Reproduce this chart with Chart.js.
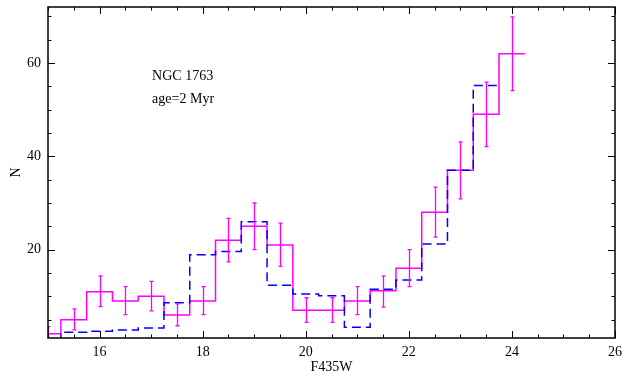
<!DOCTYPE html>
<html>
<head>
<meta charset="utf-8">
<script src="https://cdn.jsdelivr.net/npm/chart.js@4/dist/chart.umd.min.js"></script>
<style>
  html, body { margin: 0; padding: 0; background: #fff; }
  #wrap { width: 640px; height: 376px; }
</style>
</head>
<body>
<div id="wrap"><canvas id="c" width="640" height="376"></canvas></div>
<script>
// ---- data ----
const binWidth = 0.5;
const obsCenters = [15.0, 15.5, 16.0, 16.5, 17.0, 17.5, 18.0, 18.5, 19.0, 19.5, 20.0, 20.5, 21.0, 21.5, 22.0, 22.5, 23.0, 23.5, 24.0];
const obsN       = [2,    5,    11,   9,    10,   6,    9,    22,   25,   21,   7,    7,    9,    11.2, 16,   28,   37,   49,   62];
const obsErrLo   = [0.6,  2.8,  7.8,  6.1,  6.9,  3.7,  6.1,  17.4, 20,   16.4, 4.4,  4.4,  6.1,  7.7,  12.1, 22.7, 30.9, 42.1, 54.1];
const obsErrHi   = [3.5,  7.3,  14.4, 12.1, 13.2, 8.4,  12.1, 26.7, 30,   25.7, 9.7,  9.7,  12.1, 14.4, 20,   33.4, 43.1, 55.9, 69.9];
const modelCenters = [15.5, 16.0, 16.5, 17.0, 17.5, 18.0, 18.5, 19.0, 19.5, 20.0, 20.5, 21.0, 21.5, 22.0, 22.5, 23.0, 23.5];
const modelN       = [2.3,  2.5,  2.8,  3.2,  8.6,  18.9, 19.6, 26.0, 12.4, 10.5, 10.1, 3.35, 11.5, 13.5, 21.2, 37.0, 55.2];
const xTicks = [16, 18, 20, 22, 24, 26];
const yTicks = [20, 40, 60];
const xMinor = 0.5, yMinor = 5;
const annotation = ["NGC 1763", "age=2 Myr"];
const xTitle = "F435W", yTitle = "N";

// build step-outline points (bin left edges, plus final right edge)
function stepPoints(centers, vals, fromZero) {
  const pts = [];
  if (fromZero) pts.push({x: centers[0] - binWidth / 2, y: 0});
  centers.forEach((c, i) => pts.push({x: c - binWidth / 2, y: vals[i]}));
  pts.push({x: centers[centers.length - 1] + binWidth / 2, y: vals[vals.length - 1]});
  return pts;
}

const FONT = "'Liberation Serif', 'DejaVu Serif', serif";

const framePlugin = {
  id: 'frame',
  afterDatasetsDraw(chart) {
    const {ctx, chartArea: a, scales: {x, y}} = chart;
    ctx.save();
    // error bars
    ctx.beginPath();
    ctx.rect(a.left, a.top, a.right - a.left, a.bottom - a.top);
    ctx.clip();
    ctx.strokeStyle = '#ff00ff';
    ctx.lineWidth = 1.3;
    obsCenters.forEach((c, i) => {
      const px = Math.round(x.getPixelForValue(c)) + 0.5;
      const lo = y.getPixelForValue(obsErrLo[i]);
      const hi = y.getPixelForValue(obsErrHi[i]);
      ctx.beginPath();
      ctx.moveTo(px, lo); ctx.lineTo(px, hi);
      ctx.moveTo(px - 2, lo); ctx.lineTo(px + 2, lo);
      ctx.moveTo(px - 2, hi); ctx.lineTo(px + 2, hi);
      ctx.stroke();
    });
    ctx.restore();

    ctx.save();
    ctx.strokeStyle = '#000';
    ctx.lineWidth = 1.5;
    ctx.strokeRect(a.left, a.top, a.right - a.left, a.bottom - a.top);
    ctx.lineWidth = 1;
    ctx.beginPath();
    const majX = 7, minX = 3.5;
    for (let v = x.min; v <= x.max + 1e-9; v += xMinor) {
      const major = xTicks.some(t => Math.abs(t - v) < 1e-6);
      const L = major ? majX : minX;
      const px = Math.round(x.getPixelForValue(v)) + 0.5;
      ctx.moveTo(px, a.bottom); ctx.lineTo(px, a.bottom - L);
      ctx.moveTo(px, a.top); ctx.lineTo(px, a.top + L);
    }
    for (let v = 5; v <= y.max + 1e-9; v += yMinor) {
      if (v < y.min) continue;
      const major = yTicks.some(t => Math.abs(t - v) < 1e-6);
      const L = major ? majX : minX;
      const py = Math.round(y.getPixelForValue(v)) + 0.5;
      ctx.moveTo(a.left, py); ctx.lineTo(a.left + L, py);
      ctx.moveTo(a.right, py); ctx.lineTo(a.right - L, py);
    }
    ctx.stroke();

    // annotation text
    ctx.fillStyle = '#000';
    ctx.font = "14px " + FONT;
    ctx.textAlign = 'left';
    ctx.textBaseline = 'middle';
    ctx.fillText(annotation[0], x.getPixelForValue(17.02), y.getPixelForValue(57.1));
    ctx.fillText(annotation[1], x.getPixelForValue(17.02), y.getPixelForValue(52.3));
    ctx.restore();
  }
};

new Chart(document.getElementById('c'), {
  type: 'scatter',
  data: {
    datasets: [
      {
        label: 'model',
        data: stepPoints(modelCenters, modelN, true),
        showLine: true,
        stepped: 'before',
        borderColor: '#0000ff',
        borderWidth: 1.5,
        borderDash: [9, 5],
        pointRadius: 0,
        fill: false
      },
      {
        label: 'observed',
        data: stepPoints(obsCenters, obsN, false),
        showLine: true,
        stepped: 'before',
        borderColor: '#ff00ff',
        borderWidth: 1.5,
        pointRadius: 0,
        fill: false
      }
    ]
  },
  options: {
    responsive: false,
    devicePixelRatio: 1,
    animation: false,
    events: [],
    layout: { padding: { top: 7, right: 25, left: 0, bottom: 0 } },
    plugins: { legend: { display: false }, tooltip: { enabled: false } },
    scales: {
      x: {
        type: 'linear', min: 15, max: 26,
        grid: { display: false, drawTicks: false },
        border: { display: false },
        afterBuildTicks: s => { s.ticks = xTicks.map(v => ({value: v})); },
        afterFit: s => { s.height = 38; s.paddingLeft = 0; s.paddingRight = 0; },
        ticks: { color: '#000', padding: 6, font: { family: FONT, size: 14 }, maxRotation: 0 },
        title: { display: true, text: xTitle, color: '#000', padding: { top: 0, bottom: 0 }, font: { family: FONT, size: 14 } }
      },
      y: {
        type: 'linear', min: 1.07, max: 72,
        grid: { display: false, drawTicks: false },
        border: { display: false },
        afterBuildTicks: s => { s.ticks = yTicks.map(v => ({value: v})); },
        afterFit: s => { s.width = 48; s.paddingTop = 0; s.paddingBottom = 0; },
        ticks: { color: '#000', padding: 7, font: { family: FONT, size: 14 } },
        title: { display: true, text: yTitle, color: '#000', padding: { top: 8, bottom: 0 }, font: { family: FONT, size: 14 } }
      }
    }
  },
  plugins: [framePlugin]
});
</script>
</body>
</html>
